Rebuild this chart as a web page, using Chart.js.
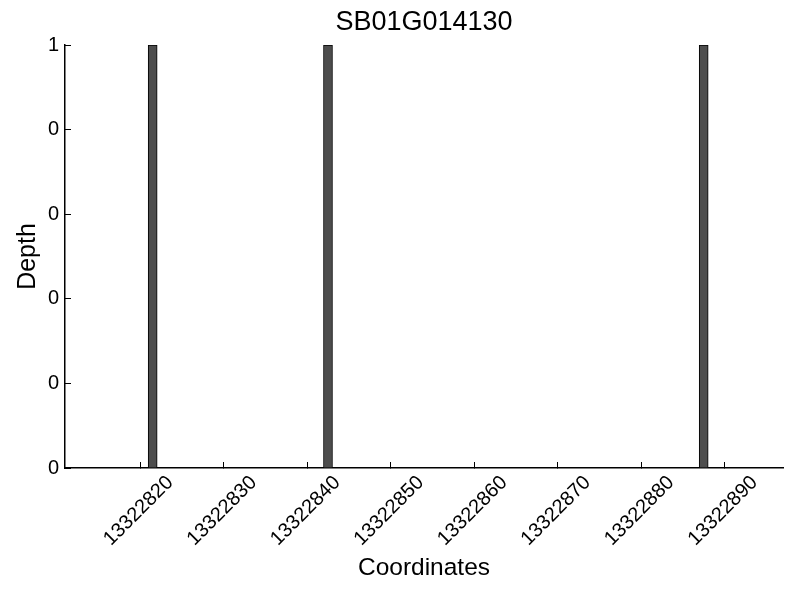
<!DOCTYPE html>
<html>
<head>
<meta charset="utf-8">
<script src="https://cdn.jsdelivr.net/npm/chart.js@4/dist/chart.umd.min.js"></script>
<style>
  html, body { margin: 0; padding: 0; background: #fff; }
  canvas { display: block; }
</style>
</head>
<body>
<canvas id="myChart" width="800" height="600"></canvas>
<script>
// Datos
const geneName = 'SB01G014130';
const positions = [13322821, 13322842, 13322887];   // coordenada de inicio de cada barra
const depths = [1, 1, 1];
const xTicks = [13322820, 13322830, 13322840, 13322850, 13322860, 13322870, 13322880, 13322890];
const yTicks = [0, 0.2, 0.4, 0.6, 0.8, 1];
const xMin = 13322811;
const xMax = 13322897;

Chart.defaults.font.family = '"Liberation Sans", Arial, sans-serif';
Chart.defaults.color = '#000';

// Centrar el titulo sobre el area del grafico (como matplotlib)
const centerTitle = {
  id: 'centerTitle',
  afterLayout(chart) {
    if (chart.titleBlock) {
      chart.titleBlock.left = chart.chartArea.left;
      chart.titleBlock.right = chart.chartArea.right;
    }
  }
};

const canvas = document.getElementById('myChart');
const ctx = canvas.getContext('2d');

const myChart = new Chart(ctx, {
  type: 'bar',
  data: {
    datasets: [{
      label: 'Depth',
      // cada barra cubre [pos, pos + 1]
      data: positions.map((p, i) => ({ x: p + 0.5, y: depths[i] })),
      backgroundColor: '#4d4d4d',
      borderColor: '#000',
      borderWidth: 1,
      barThickness: 9
    }]
  },
  options: {
    responsive: false,
    animation: false,
    devicePixelRatio: 1,
    layout: { padding: { left: 0, right: 17, top: 0, bottom: 0 } },
    plugins: {
      legend: { display: false },
      tooltip: { enabled: false },
      title: {
        display: true,
        text: geneName,
        font: { size: 27, weight: 'normal' },
        padding: { top: 6, bottom: 6.6 }
      }
    },
    scales: {
      x: {
        type: 'linear',
        min: xMin,
        max: xMax,
        offset: false,
        afterBuildTicks: s => { s.ticks = xTicks.map(v => ({ value: v })); },
        afterFit: s => { s.height = 132; },
        grid: { offset: false, drawOnChartArea: false, tickLength: -6, color: '#000', tickWidth: 1 },
        border: { display: true, color: '#000', width: 1.5 },
        ticks: {
          autoSkip: false,
          minRotation: 45,
          maxRotation: 45,
          labelOffset: 30,
          padding: 9,
          font: { size: 20 },
          callback: v => String(v)
        },
        title: {
          display: true,
          text: 'Coordinates',
          font: { size: 24.5 },
          padding: { top: 0, bottom: 17.5 }
        }
      },
      y: {
        type: 'linear',
        min: 0,
        max: 1,
        afterBuildTicks: s => { s.ticks = yTicks.map(v => ({ value: v })); },
        afterFit: s => { s.width = 65; },
        grid: { drawOnChartArea: false, tickLength: -6, color: '#000', tickWidth: 1 },
        border: { display: true, color: '#000', width: 1.5 },
        ticks: {
          padding: 12,
          font: { size: 20 },
          callback: v => String(Math.floor(v + 1e-9))
        },
        title: {
          display: true,
          text: 'Depth',
          font: { size: 25 },
          padding: { top: 13, bottom: 0 }
        }
      }
    }
  },
  plugins: [centerTitle]
});
</script>
</body>
</html>
